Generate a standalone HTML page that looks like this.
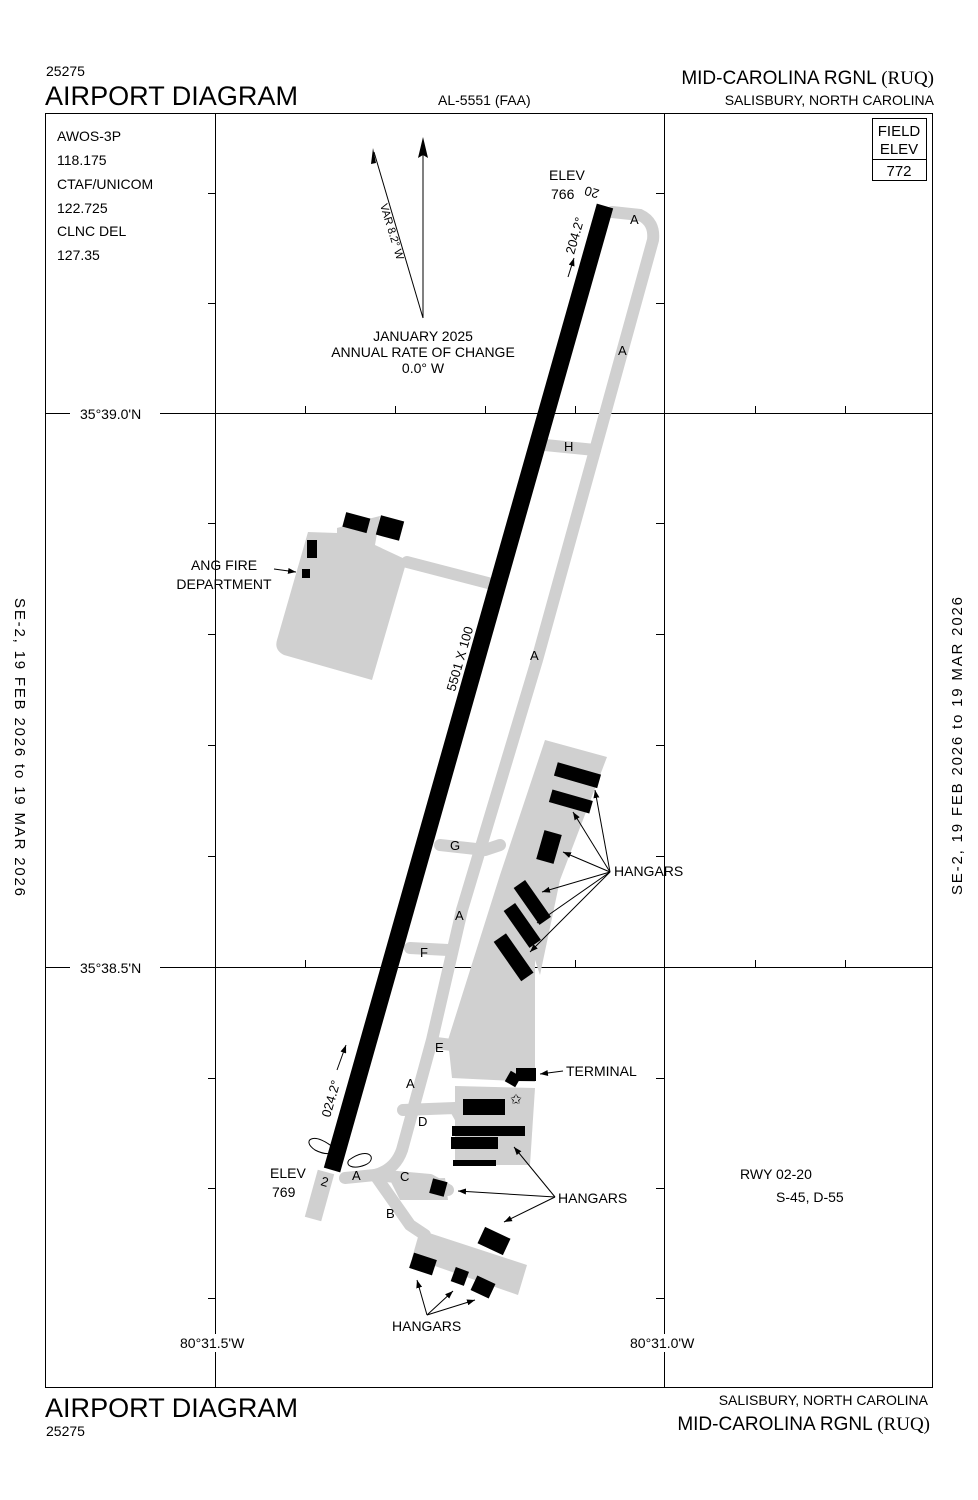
<!DOCTYPE html>
<html><head><meta charset="utf-8"><style>
html,body{margin:0;padding:0;background:#fff;}
svg{display:block;font-family:"Liberation Sans",sans-serif;}
</style></head><body>
<svg width="978" height="1500" viewBox="0 0 978 1500" xmlns="http://www.w3.org/2000/svg">
<defs><marker id="ar" markerWidth="8" markerHeight="6" refX="8" refY="3" orient="auto" markerUnits="userSpaceOnUse"><path d="M0,0 L8,3 L0,6 z" fill="#000"/></marker></defs>
<!-- header -->
<text x="46" y="76" font-size="14">25275</text>
<text x="45" y="105" font-size="27" textLength="253" lengthAdjust="spacingAndGlyphs">AIRPORT DIAGRAM</text>
<text x="438" y="105" font-size="14">AL-5551 (FAA)</text>
<text x="934" y="84" font-size="19" text-anchor="end">MID-CAROLINA RGNL <tspan font-family="Liberation Serif">(RUQ)</tspan></text>
<text x="934" y="105" font-size="14" text-anchor="end">SALISBURY, NORTH CAROLINA</text>
<!-- footer -->
<text x="45" y="1417" font-size="27" textLength="253" lengthAdjust="spacingAndGlyphs">AIRPORT DIAGRAM</text>
<text x="46" y="1436" font-size="14">25275</text>
<text x="928" y="1405" font-size="14" text-anchor="end">SALISBURY, NORTH CAROLINA</text>
<text x="930" y="1430" font-size="19" text-anchor="end">MID-CAROLINA RGNL <tspan font-family="Liberation Serif">(RUQ)</tspan></text>
<!-- side text -->
<text transform="translate(15,598) rotate(90)" font-size="15" textLength="298" lengthAdjust="spacing">SE-2,  19 FEB 2026  to  19 MAR 2026</text>
<text transform="translate(962,895) rotate(-90)" font-size="15" textLength="298" lengthAdjust="spacing">SE-2,  19 FEB 2026  to  19 MAR 2026</text>
<!-- frame -->
<rect x="45.5" y="113.5" width="887" height="1274" fill="none" stroke="#000" stroke-width="1"/>
<g stroke="#000" stroke-width="1">
<line x1="215.5" y1="113" x2="215.5" y2="1387"/>
<line x1="664.5" y1="113" x2="664.5" y2="1387"/>
<line x1="45" y1="413.5" x2="70" y2="413.5"/><line x1="160" y1="413.5" x2="932" y2="413.5"/>
<line x1="45" y1="967.5" x2="70" y2="967.5"/><line x1="160" y1="967.5" x2="932" y2="967.5"/>
<line x1="208" y1="193.5" x2="215" y2="193.5"/><line x1="208" y1="303.5" x2="215" y2="303.5"/>
<line x1="208" y1="523.5" x2="215" y2="523.5"/><line x1="208" y1="634.5" x2="215" y2="634.5"/>
<line x1="208" y1="745.5" x2="215" y2="745.5"/><line x1="208" y1="856.5" x2="215" y2="856.5"/>
<line x1="208" y1="1078.5" x2="215" y2="1078.5"/><line x1="208" y1="1188.5" x2="215" y2="1188.5"/>
<line x1="208" y1="1298.5" x2="215" y2="1298.5"/>
<line x1="656" y1="193.5" x2="664" y2="193.5"/><line x1="656" y1="303.5" x2="664" y2="303.5"/>
<line x1="656" y1="523.5" x2="664" y2="523.5"/><line x1="656" y1="634.5" x2="664" y2="634.5"/>
<line x1="656" y1="745.5" x2="664" y2="745.5"/><line x1="656" y1="856.5" x2="664" y2="856.5"/>
<line x1="656" y1="1078.5" x2="664" y2="1078.5"/><line x1="656" y1="1188.5" x2="664" y2="1188.5"/>
<line x1="656" y1="1298.5" x2="664" y2="1298.5"/>
<line x1="305.5" y1="406" x2="305.5" y2="413"/><line x1="395.5" y1="406" x2="395.5" y2="413"/><line x1="485.5" y1="406" x2="485.5" y2="413"/><line x1="575.5" y1="406" x2="575.5" y2="413"/>
<line x1="755.5" y1="406" x2="755.5" y2="413"/><line x1="845.5" y1="406" x2="845.5" y2="413"/>
<line x1="305.5" y1="960" x2="305.5" y2="967"/><line x1="395.5" y1="960" x2="395.5" y2="967"/><line x1="485.5" y1="960" x2="485.5" y2="967"/><line x1="575.5" y1="960" x2="575.5" y2="967"/>
<line x1="755.5" y1="960" x2="755.5" y2="967"/><line x1="845.5" y1="960" x2="845.5" y2="967"/>
</g>
<text x="80" y="419" font-size="14">35°39.0'N</text>
<text x="80" y="973" font-size="14">35°38.5'N</text>
<rect x="178" y="1334" width="80" height="18" fill="#fff"/>
<rect x="628" y="1334" width="80" height="18" fill="#fff"/>
<text x="180" y="1348" font-size="14">80°31.5'W</text>
<text x="630" y="1348" font-size="14">80°31.0'W</text>
<!-- info -->
<g font-size="14">
<text x="57" y="141">AWOS-3P</text><text x="57" y="165">118.175</text>
<text x="57" y="189">CTAF/UNICOM</text><text x="57" y="213">122.725</text>
<text x="57" y="236">CLNC DEL</text><text x="57" y="260">127.35</text>
</g>
<rect x="872.5" y="118.5" width="54" height="62" fill="#fff" stroke="#000"/>
<line x1="872" y1="159.5" x2="926" y2="159.5" stroke="#000"/>
<text x="899" y="136" font-size="15" text-anchor="middle">FIELD</text>
<text x="899" y="154" font-size="15" text-anchor="middle">ELEV</text>
<text x="899" y="176" font-size="15" text-anchor="middle">772</text>
<!-- north arrow -->
<line x1="423" y1="150" x2="423" y2="318" stroke="#000"/>
<path d="M423,137 L428,158 L423,155 L418,158 z" fill="#000"/>
<line x1="423" y1="318" x2="374" y2="152" stroke="#000"/>
<path d="M373,148 L376,163 L371,164 z" fill="#000"/>
<text transform="translate(380,205) rotate(73)" font-size="11">VAR 8.2° W</text>
<text x="423" y="341" font-size="14" text-anchor="middle">JANUARY 2025</text>
<text x="423" y="357" font-size="14" text-anchor="middle">ANNUAL RATE OF CHANGE</text>
<text x="423" y="373" font-size="14" text-anchor="middle">0.0° W</text>
<!-- aprons -->
<g fill="#d0d0d0">
<path d="M308,532 L337,533 L337,528 L372,518 L380,516 L375,545 L407,560 L372,680 L284,655 Q274,650 277,640 Z"/>
<path d="M545,740 L607,757 L560,880 L540,975 L535,960 L535,1082 L452,1078 L448,1040 L500,875 Z"/>
<path d="M455,1086 L535,1088 L530,1165 L455,1165 Z"/>
<path d="M420,1230 L527,1265 L518,1295 L412,1258 Z"/>
<path d="M390,1180 L445,1178 L448,1200 L400,1200 Z"/>
</g>
<!-- taxiways -->
<g fill="none" stroke="#d0d0d0" stroke-width="12" stroke-linejoin="round" stroke-linecap="round">
<path d="M612,212 L640,215 Q655,222 653,240 L602,425 L537,660 L462,910 L432,1040 L402,1150 Q395,1170 375,1175 L345,1178"/>
<path d="M407,562 L488,583"/>
<path d="M545,445 L595,450"/>
<path d="M440,845 L485,850 L500,845"/>
<path d="M410,948 L448,950"/>
<path d="M436,1043 L475,1048"/>
<path d="M403,1110 L455,1108 L470,1135"/>
<path d="M375,1175 L430,1180 L448,1190"/>
<path d="M375,1175 L410,1225 L425,1235"/>
</g>
<!-- runway -->
<line x1="326" y1="1172" x2="313" y2="1219" stroke="#d0d0d0" stroke-width="17"/>
<line x1="605" y1="206" x2="332" y2="1170" stroke="#000" stroke-width="17"/>
<!-- buildings -->
<g fill="#000">
<rect x="344" y="515" width="25" height="15" transform="rotate(15 356 522)"/>
<rect x="378" y="518" width="24" height="20" transform="rotate(15 390 528)"/>
<rect x="307" y="540" width="10" height="18"/><rect x="302" y="569" width="8" height="9"/>
<rect x="555" y="768" width="45" height="14" transform="rotate(16 577 775)"/>
<rect x="550" y="795" width="42" height="13" transform="rotate(16 571 801)"/>
<rect x="540" y="832" width="18" height="30" transform="rotate(16 549 847)"/>
<rect x="510" y="895" width="45" height="14" transform="rotate(55 532 902)"/>
<rect x="500" y="918" width="45" height="14" transform="rotate(55 522 925)"/>
<rect x="490" y="950" width="48" height="15" transform="rotate(55 514 957)"/>
<rect x="516" y="1068" width="20" height="13"/><rect x="507" y="1073" width="12" height="12" transform="rotate(30 513 1079)"/>
<rect x="463" y="1099" width="42" height="16"/>
<rect x="452" y="1126" width="73" height="10"/>
<rect x="451" y="1137" width="47" height="12"/>
<rect x="453" y="1160" width="43" height="6"/>
<rect x="431" y="1180" width="15" height="15" transform="rotate(15 438 1187)"/>
<rect x="480" y="1232" width="28" height="18" transform="rotate(25 494 1241)"/>
<rect x="411" y="1256" width="24" height="16" transform="rotate(18 423 1264)"/>
<rect x="453" y="1269" width="14" height="15" transform="rotate(20 460 1276)"/>
<rect x="473" y="1279" width="20" height="16" transform="rotate(25 483 1287)"/>
</g>
<text x="516" y="1104" font-size="14" text-anchor="middle">✩</text>
<!-- labels -->
<g font-size="14">
<text x="549" y="180">ELEV</text><text x="551" y="199">766</text>
<text x="270" y="1178">ELEV</text><text x="272" y="1197">769</text>
<text x="224" y="570" text-anchor="middle">ANG FIRE</text>
<text x="224" y="589" text-anchor="middle">DEPARTMENT</text>
<text x="614" y="876">HANGARS</text>
<text x="566" y="1076">TERMINAL</text>
<text x="558" y="1203">HANGARS</text>
<text x="392" y="1331">HANGARS</text>
<text x="740" y="1179">RWY 02-20</text>
<text x="776" y="1202">S-45, D-55</text>
</g>
<g font-size="13">
<text transform="translate(600,190) rotate(196)">20</text>
<text transform="translate(320,1185) rotate(16)">2</text>
<text transform="translate(574,255) rotate(-74)">204.2°</text>
<text transform="translate(330,1118) rotate(-74)">024.2°</text>
<text transform="translate(455,692) rotate(-74)">5501 X 100</text>
<text x="630" y="224">A</text><text x="618" y="355">A</text><text x="530" y="660">A</text>
<text x="455" y="920">A</text><text x="406" y="1088">A</text><text x="352" y="1180">A</text>
<text x="564" y="451">H</text><text x="450" y="850">G</text><text x="420" y="957">F</text>
<text x="435" y="1052">E</text><text x="418" y="1126">D</text><text x="400" y="1181">C</text><text x="386" y="1218">B</text>
</g>
<g stroke="#000" fill="none" stroke-width="1">
<line x1="568" y1="277" x2="574" y2="258" marker-end="url(#ar)"/>
<line x1="337" y1="1070" x2="346" y2="1045" marker-end="url(#ar)"/>
<line x1="274" y1="569" x2="296" y2="572" marker-end="url(#ar)"/>
<line x1="610" y1="872" x2="595" y2="790" marker-end="url(#ar)"/>
<line x1="610" y1="872" x2="573" y2="812" marker-end="url(#ar)"/>
<line x1="610" y1="872" x2="563" y2="852" marker-end="url(#ar)"/>
<line x1="610" y1="872" x2="542" y2="892" marker-end="url(#ar)"/>
<line x1="610" y1="872" x2="537" y2="923" marker-end="url(#ar)"/>
<line x1="610" y1="872" x2="530" y2="952" marker-end="url(#ar)"/>
<line x1="563" y1="1071" x2="540" y2="1074" marker-end="url(#ar)"/>
<line x1="555" y1="1197" x2="458" y2="1191" marker-end="url(#ar)"/>
<line x1="555" y1="1197" x2="514" y2="1147" marker-end="url(#ar)"/>
<line x1="555" y1="1197" x2="504" y2="1222" marker-end="url(#ar)"/>
<line x1="427" y1="1315" x2="417" y2="1280" marker-end="url(#ar)"/>
<line x1="427" y1="1315" x2="453" y2="1291" marker-end="url(#ar)"/>
<line x1="427" y1="1315" x2="475" y2="1300" marker-end="url(#ar)"/>
<path d="M336,1150 C315,1130 300,1140 315,1150 C330,1158 340,1150 336,1150"/>
<path d="M349,1160 C370,1145 378,1160 365,1165 C352,1170 345,1165 349,1160"/>
</g>
</svg>
</body></html>
